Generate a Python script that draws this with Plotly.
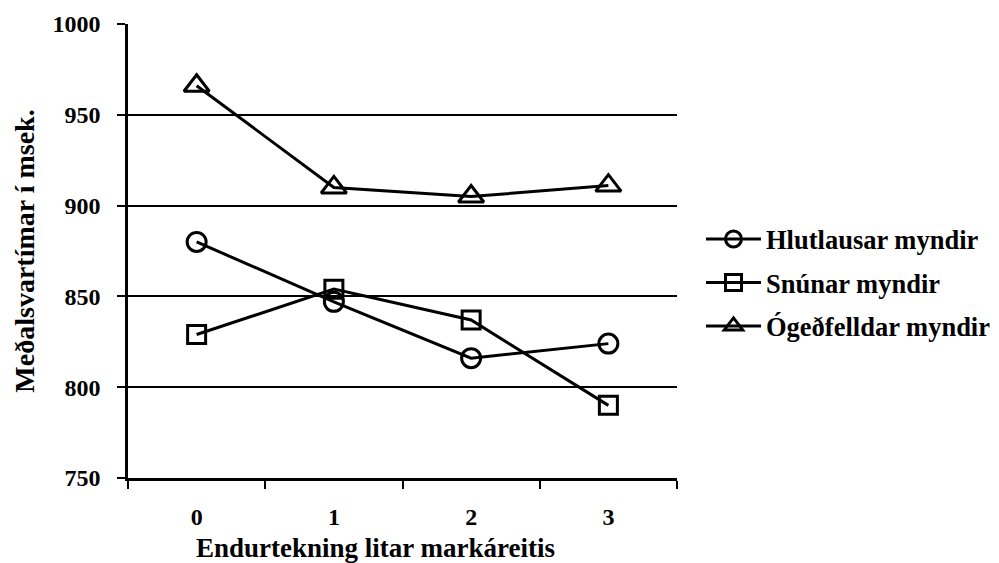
import plotly.graph_objects as go

categories = ["0", "1", "2", "3"]
hlutlausar = [880, 847, 816, 824]
snunar = [829, 854, 837, 790]
ogedfelldar = [966, 910, 905, 911]
series_names = ["Hlutlausar myndir", "Snúnar myndir", "Ógeðfelldar myndir"]
y_ticks = [750, 800, 850, 900, 950, 1000]
x_title = "Endurtekning litar markáreitis"
y_title = "Meðalsvartímar í msek."

font_family = "Liberation Serif, Times New Roman, serif"

fig = go.Figure()
for name, vals, sym, sz, grp in [
    (series_names[0], hlutlausar, "circle-open", 19, "a"),
    (series_names[1], snunar, "square-open", 18, "b"),
    (series_names[2], ogedfelldar, "triangle-up-open", 22, "c"),
]:
    fig.add_trace(go.Scatter(
        x=categories, y=vals, name=name, mode="lines+markers",
        legendgroup=grp,
        line=dict(color="black", width=3),
        marker=dict(symbol=sym, size=sz, color="black", line=dict(color="black", width=3)),
    ))

fig.update_layout(
    width=1015, height=563,
    paper_bgcolor="white", plot_bgcolor="white",
    margin=dict(l=128, r=338, t=24, b=85),
    font=dict(family=font_family, color="black"),
    showlegend=True,
    legend=dict(
        x=1.0437, xanchor="left", y=0.43, yanchor="middle",
        font=dict(size=26.5, family=font_family, color="black", weight="bold"),
        tracegroupgap=6, itemwidth=55,
        bgcolor="rgba(0,0,0,0)",
    ),
    annotations=[dict(
        text=x_title, xref="paper", yref="paper", x=0.4517, y=0,
        xanchor="center", yanchor="top", yshift=-53, showarrow=False,
        font=dict(size=27, family=font_family, color="black", weight="bold"),
    )],
)
fig.update_xaxes(
    type="category", categoryorder="array", categoryarray=categories,
    range=[-0.5, 3.5], automargin=False,
    showline=True, linecolor="black", linewidth=2.5,
    ticks="outside", ticklen=8, tickwidth=2, tickcolor="black",
    tickson="boundaries",
    showgrid=False,
    tickfont=dict(size=24, family=font_family, weight="bold"),
    ticklabelstandoff=15,
)
fig.update_yaxes(
    range=[750, 1000], tickvals=y_ticks, automargin=False,
    showline=True, linecolor="black", linewidth=2.5,
    ticks="outside", ticklen=8, tickwidth=2, tickcolor="black",
    showgrid=True, gridcolor="black", gridwidth=1.5,
    zeroline=False,
    tickfont=dict(size=24, family=font_family, weight="bold"),
    ticklabelstandoff=12,
    title=dict(text=y_title, standoff=10,
               font=dict(size=28, family=font_family, weight="bold")),
)

fig.write_html(
    "out.html",
    config={"displayModeBar": False},
    post_script="document.body.style.margin='0';document.body.style.overflow='hidden';document.documentElement.style.overflow='hidden';",
)
